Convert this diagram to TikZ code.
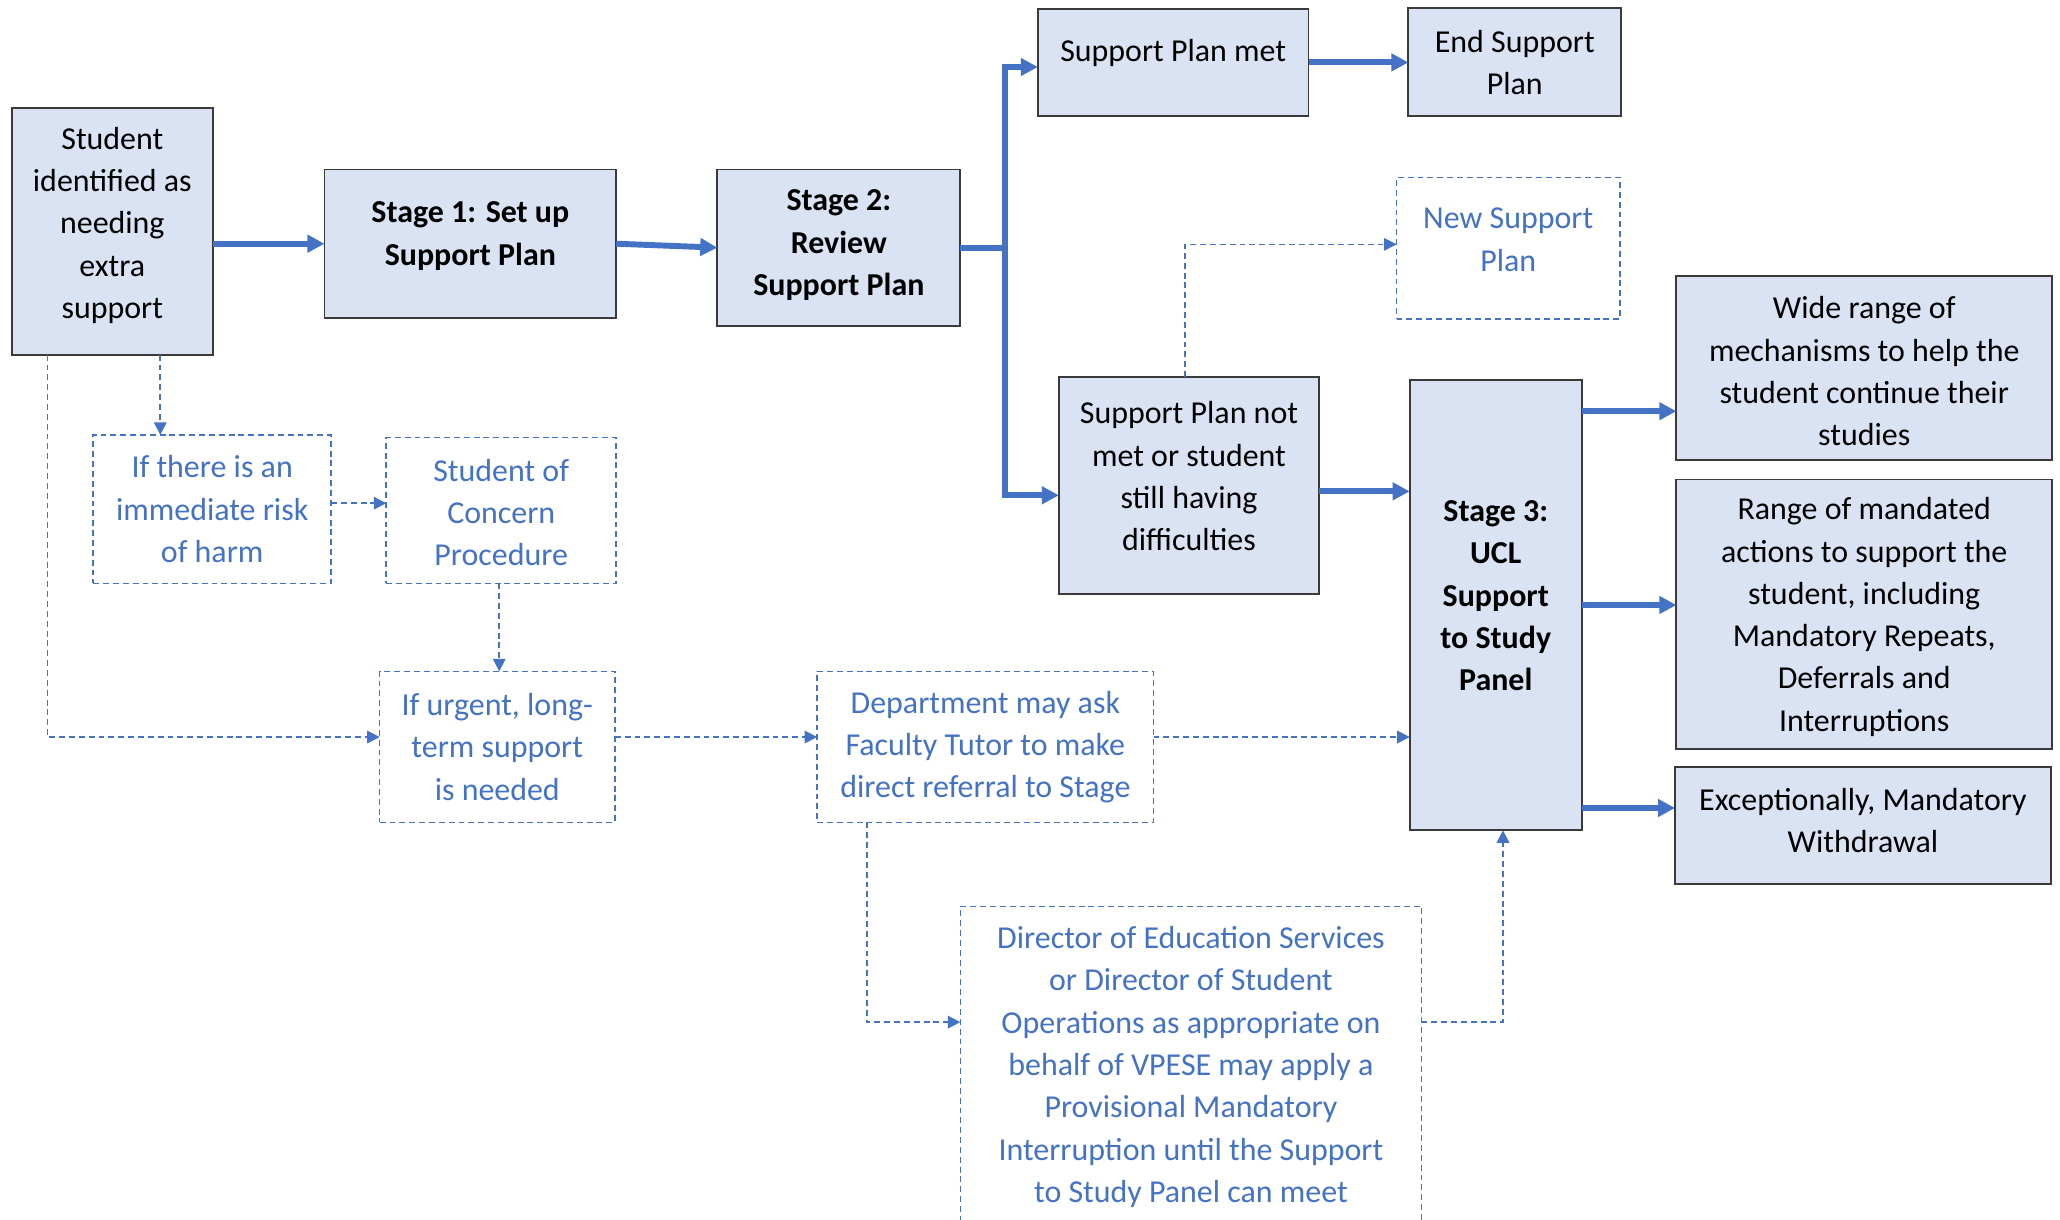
\documentclass[tikz,border=0pt]{standalone}
\usepackage{fontspec}
\setmainfont{Carlito}
\usetikzlibrary{arrows.meta,calc}
\definecolor{ublue}{HTML}{4472C4}
\definecolor{boxfill}{HTML}{DAE3F3}
\definecolor{boxline}{HTML}{3A3A3A}
\tikzset{
  solidbox/.style={draw=boxline, fill=boxfill, line width=1.4pt, inner sep=0pt, outer sep=0pt},
  dashbox/.style={draw=ublue, line width=1.2pt, dash pattern=on 4.5pt off 3pt, inner sep=0pt, outer sep=0pt},
  txt/.style={align=center, inner sep=0pt, yshift=-1.6pt, font=\fontsize{24.3pt}{32.2pt}\selectfont},
  btxt/.style={txt, font=\fontsize{24.3pt}{32.2pt}\selectfont\bfseries},
  bluetxt/.style={txt, text=ublue},
  tarr/.style={draw=ublue, line width=4.5pt, -{Triangle[length=13pt,width=13pt]}},
  darr/.style={draw=ublue, line width=1.2pt, dash pattern=on 4.5pt off 3pt, -{Triangle[length=9.5pt,width=9.5pt]}},
}
\begin{document}
\begin{tikzpicture}[x=1pt,y=-1pt]
\useasboundingbox (0,0) rectangle (1568,928);
\clip (0,0) rectangle (1568,928);
\fill[white] (0,0) rectangle (1568,928);

% solid boxes
\node[solidbox, minimum width=153pt, minimum height=188pt] (stu) at (85.5,176) {};
\node[txt] (stut) at (85.5,170) {Student\\identified as\\needing\\extra\\support};

\node[solidbox, minimum width=222pt, minimum height=113pt] (st1) at (358,185.5) {};
\node[btxt] (st1t) at (358,178) {Stage 1: Set up\\Support Plan};

\node[solidbox, minimum width=185pt, minimum height=119pt] (st2) at (638.5,188.5) {};
\node[btxt] (st2t) at (638.5,185) {Stage 2:\\Review\\Support Plan};

\node[solidbox, minimum width=206pt, minimum height=81pt] (met) at (893,47.5) {};
\node[txt] (mett) at (893,39) {Support Plan met};

\node[solidbox, minimum width=162pt, minimum height=82pt] (endp) at (1153,47) {};
\node[txt] (endpt) at (1153,46) {End Support\\Plan};

\node[solidbox, minimum width=198pt, minimum height=165pt] (notmet) at (905,369.5) {};
\node[txt] (notmett) at (905,361) {Support Plan not\\met or student\\still having\\difficulties};

\node[solidbox, minimum width=131pt, minimum height=343pt] (st3) at (1138.5,460.5) {};
\node[btxt] (st3t) at (1138.5,452) {Stage 3:\\UCL\\Support\\to Study\\Panel};

\node[solidbox, minimum width=286pt, minimum height=140pt] (wide) at (1419,280) {};
\node[txt] (widet) at (1419,281) {Wide range of\\mechanisms to help the\\student continue their\\studies};

\node[solidbox, minimum width=286pt, minimum height=205pt] (range) at (1419,467.5) {};
\node[txt] (ranget) at (1419,468) {Range of mandated\\actions to support the\\student, including\\Mandatory Repeats,\\Deferrals and\\Interruptions};

\node[solidbox, minimum width=286pt, minimum height=89pt] (exc) at (1418,628.5) {};
\node[txt] (exct) at (1418,623) {Exceptionally, Mandatory\\Withdrawal};

% dashed boxes
\node[dashbox, minimum width=170pt, minimum height=108pt] (newp) at (1148,189) {};
\node[bluetxt] (newpt) at (1148,181) {New Support\\Plan};

\node[dashbox, minimum width=181pt, minimum height=113pt] (risk) at (161.5,387.5) {};
\node[bluetxt] (riskt) at (161.5,386) {If there is an\\immediate risk\\of harm};

\node[dashbox, minimum width=175pt, minimum height=111pt] (soc) at (381.5,388.5) {};
\node[bluetxt] (soct) at (381.5,388.5) {Student of\\Concern\\Procedure};

\node[dashbox, minimum width=179pt, minimum height=115pt] (urg) at (378.5,568.5) {};
\node[bluetxt] (urgt) at (378.5,567) {If urgent, long-\\term support\\is needed};

\node[dashbox, minimum width=256pt, minimum height=115pt] (dept) at (750,568.5) {};
\node[bluetxt] (deptt) at (750,567) {Department may ask\\Faculty Tutor to make\\direct referral to Stage};

\node[dashbox, minimum width=351pt, minimum height=270pt] (dir) at (906.5,825) {};
\node[bluetxt] (dirt) at (906.5,810.5) {Director of Education Services\\or Director of Student\\Operations as appropriate on\\behalf of VPESE may apply a\\Provisional Mandatory\\Interruption until the Support\\to Study Panel can meet};

% solid connectors
\draw[tarr] (stu.east |- st1.west) -- (st1.west);
\draw[tarr] (st1.east) -- (st2.west);
\coordinate (br) at (765,188.5);
\draw[draw=ublue, line width=4.5pt] (st2.east) -- (br);
\draw[tarr] ($(br)+(0,2.25)$) |- ($(met.west)+(0,3.5)$);
\draw[tarr] ($(br)+(0,-2.25)$) |- ($(notmet.west)+(0,7.5)$);
\draw[tarr] (met.east) -- (endp.west |- met.east);
\draw[tarr] ($(notmet.east)+(0,4.5)$) coordinate (a5) -- (a5 -| st3.west);
\draw[tarr] ($(st3.east)+(0,-147.5)$) coordinate (a6) -- (a6 -| wide.west);
\draw[tarr] (st3.east) -- (st3.east -| range.west);
\draw[tarr] ($(st3.east)+(0,154.5)$) coordinate (a8) -- (a8 -| exc.west);

% dashed connectors
\draw[darr] ($(stu.south west)+(27,0)$) |- ($(urg.west)+(0,-7.5)$);
\draw[darr] ($(stu.south)+(36.5,0)$) coordinate (b1) -- (b1 |- risk.north);
\draw[darr] ($(risk.east)+(0,-4.5)$) coordinate (c1) -- (c1 -| soc.west);
\draw[darr] ($(soc.south)+(-1.5,0)$) coordinate (d1) -- (d1 |- urg.north);
\draw[darr] ($(urg.east)+(0,-7.5)$) coordinate (e1) -- (e1 -| dept.west);
\draw[darr] ($(dept.east)+(0,-7.5)$) coordinate (f1) -- (f1 -| st3.west);
\draw[darr] ($(dept.south)+(-90,0)$) |- ($(dir.north west)+(0,88)$);
\draw[darr] ($(dir.north east)+(0,88)$) -| ($(st3.south)+(5.5,0)$);
\draw[darr] ($(notmet.north)+(-3,0)$) |- ($(newp.west)+(0,-3)$);
\end{tikzpicture}
\end{document}
